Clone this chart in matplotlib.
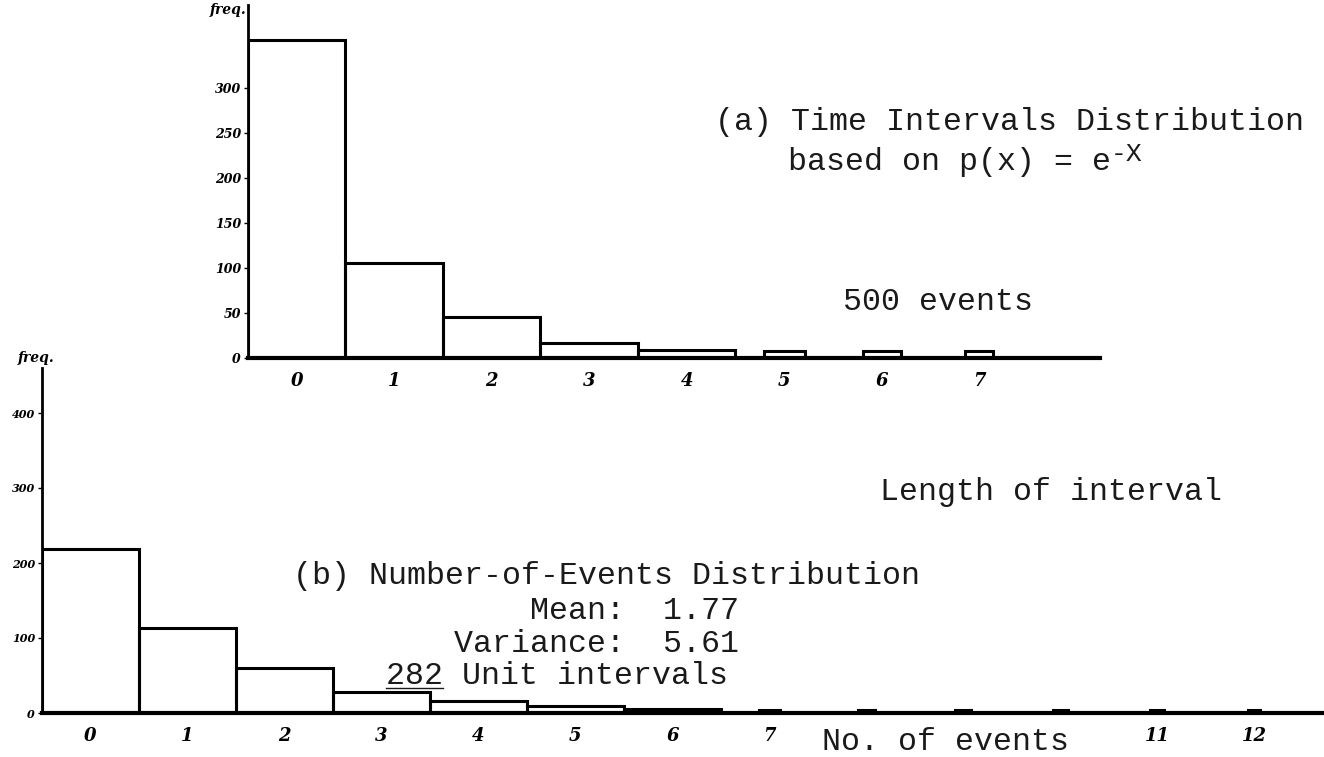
import matplotlib.pyplot as plt
import numpy as np

# (a) time intervals, 500 events
top_bins = np.arange(8)
top_freq = [353, 105, 46, 17, 9, 8, 8, 8]
top_width = [1, 1, 1, 1, 1, 0.42, 0.39, 0.28]
top_yticks = [0, 50, 100, 150, 200, 250, 300]

# (b) number of events per unit interval
bot_bins = np.arange(13)
bot_freq = [219, 113, 60, 28, 16, 9, 5, 4, 4, 4, 4, 4, 4]
bot_width = [1, 1, 1, 1, 1, 1, 1, 0.22, 0.17, 0.17, 0.15, 0.15, 0.12]
bot_yticks = [0, 100, 200, 300, 400]
bot_xticks = [0, 1, 2, 3, 4, 5, 6, 7, 11, 12]

W, H = 1324, 757
type_font = 'Liberation Mono'
fs = 22.8
pitch = fs / 72 * 100 * 0.6   # px per typed character
hand = dict(family='DejaVu Serif', style='italic', weight='bold')

fig = plt.figure(figsize=(W / 100, H / 100), dpi=100)


def style(ax, xlim, ylim, yticks, xticks, ysize):
    ax.set_xlim(*xlim)
    ax.set_ylim(*ylim)
    for s in ['top', 'right']:
        ax.spines[s].set_visible(False)
    ax.spines['left'].set_linewidth(2)
    ax.spines['bottom'].set_linewidth(3)
    ax.set_yticks(yticks)
    ax.set_yticklabels([str(v) for v in yticks], fontsize=ysize, **hand)
    ax.set_xticks(xticks)
    ax.set_xticklabels([str(v) for v in xticks], fontsize=13, **hand)
    ax.tick_params(axis='x', length=0, pad=10)
    ax.tick_params(axis='y', length=3, width=1, pad=2)
    ax.patch.set_alpha(0)


def typed(x, y, s, **kw):
    # y is the baseline, in pixels from the top
    fig.text(x / W, 1 - y / H, s, fontsize=kw.pop('size', fs), family=type_font,
             va='baseline', color='#1a1a1a', **kw)


# top panel
ax1 = fig.add_axes([248 / W, 1 - 358 / H, 852 / W, 353 / H])
ax1.bar(top_bins, top_freq, width=top_width, fill=False, edgecolor='black', linewidth=2.2)
style(ax1, (-0.5, 8.24), (0, 392), top_yticks, top_bins, 9)
fig.text(210 / W, 1 - 14 / H, 'freq.', fontsize=10, **hand)

# bottom panel
ax2 = fig.add_axes([42 / W, 1 - 713 / H, 1282 / W, 345 / H])
ax2.bar(bot_bins, bot_freq, width=bot_width, fill=False, edgecolor='black', linewidth=2.2)
style(ax2, (-0.5, 12.72), (0, 460), bot_yticks, bot_xticks, 8)
fig.text(18 / W, 1 - 362 / H, 'freq.', fontsize=10, **hand)

# typed annotations
typed(715, 130, '(a) Time Intervals Distribution')
typed(788, 170, 'based on p(x) = e')
typed(788 + 17 * pitch, 161, '-X', size=19)
typed(843, 310, '500 events')
typed(880, 500, 'Length of interval')
typed(293, 584, '(b) Number-of-Events Distribution')
typed(530, 619, 'Mean:  1.77')
typed(454, 652, 'Variance:  5.61')
typed(386, 684, '282 Unit intervals')
fig.add_artist(plt.Line2D([386 / W, (386 + 3 * pitch) / W], [1 - 688 / H, 1 - 688 / H],
                          color='#1a1a1a', linewidth=1))
typed(822, 750, 'No. of events')

fig.savefig('out.png', dpi=100)
